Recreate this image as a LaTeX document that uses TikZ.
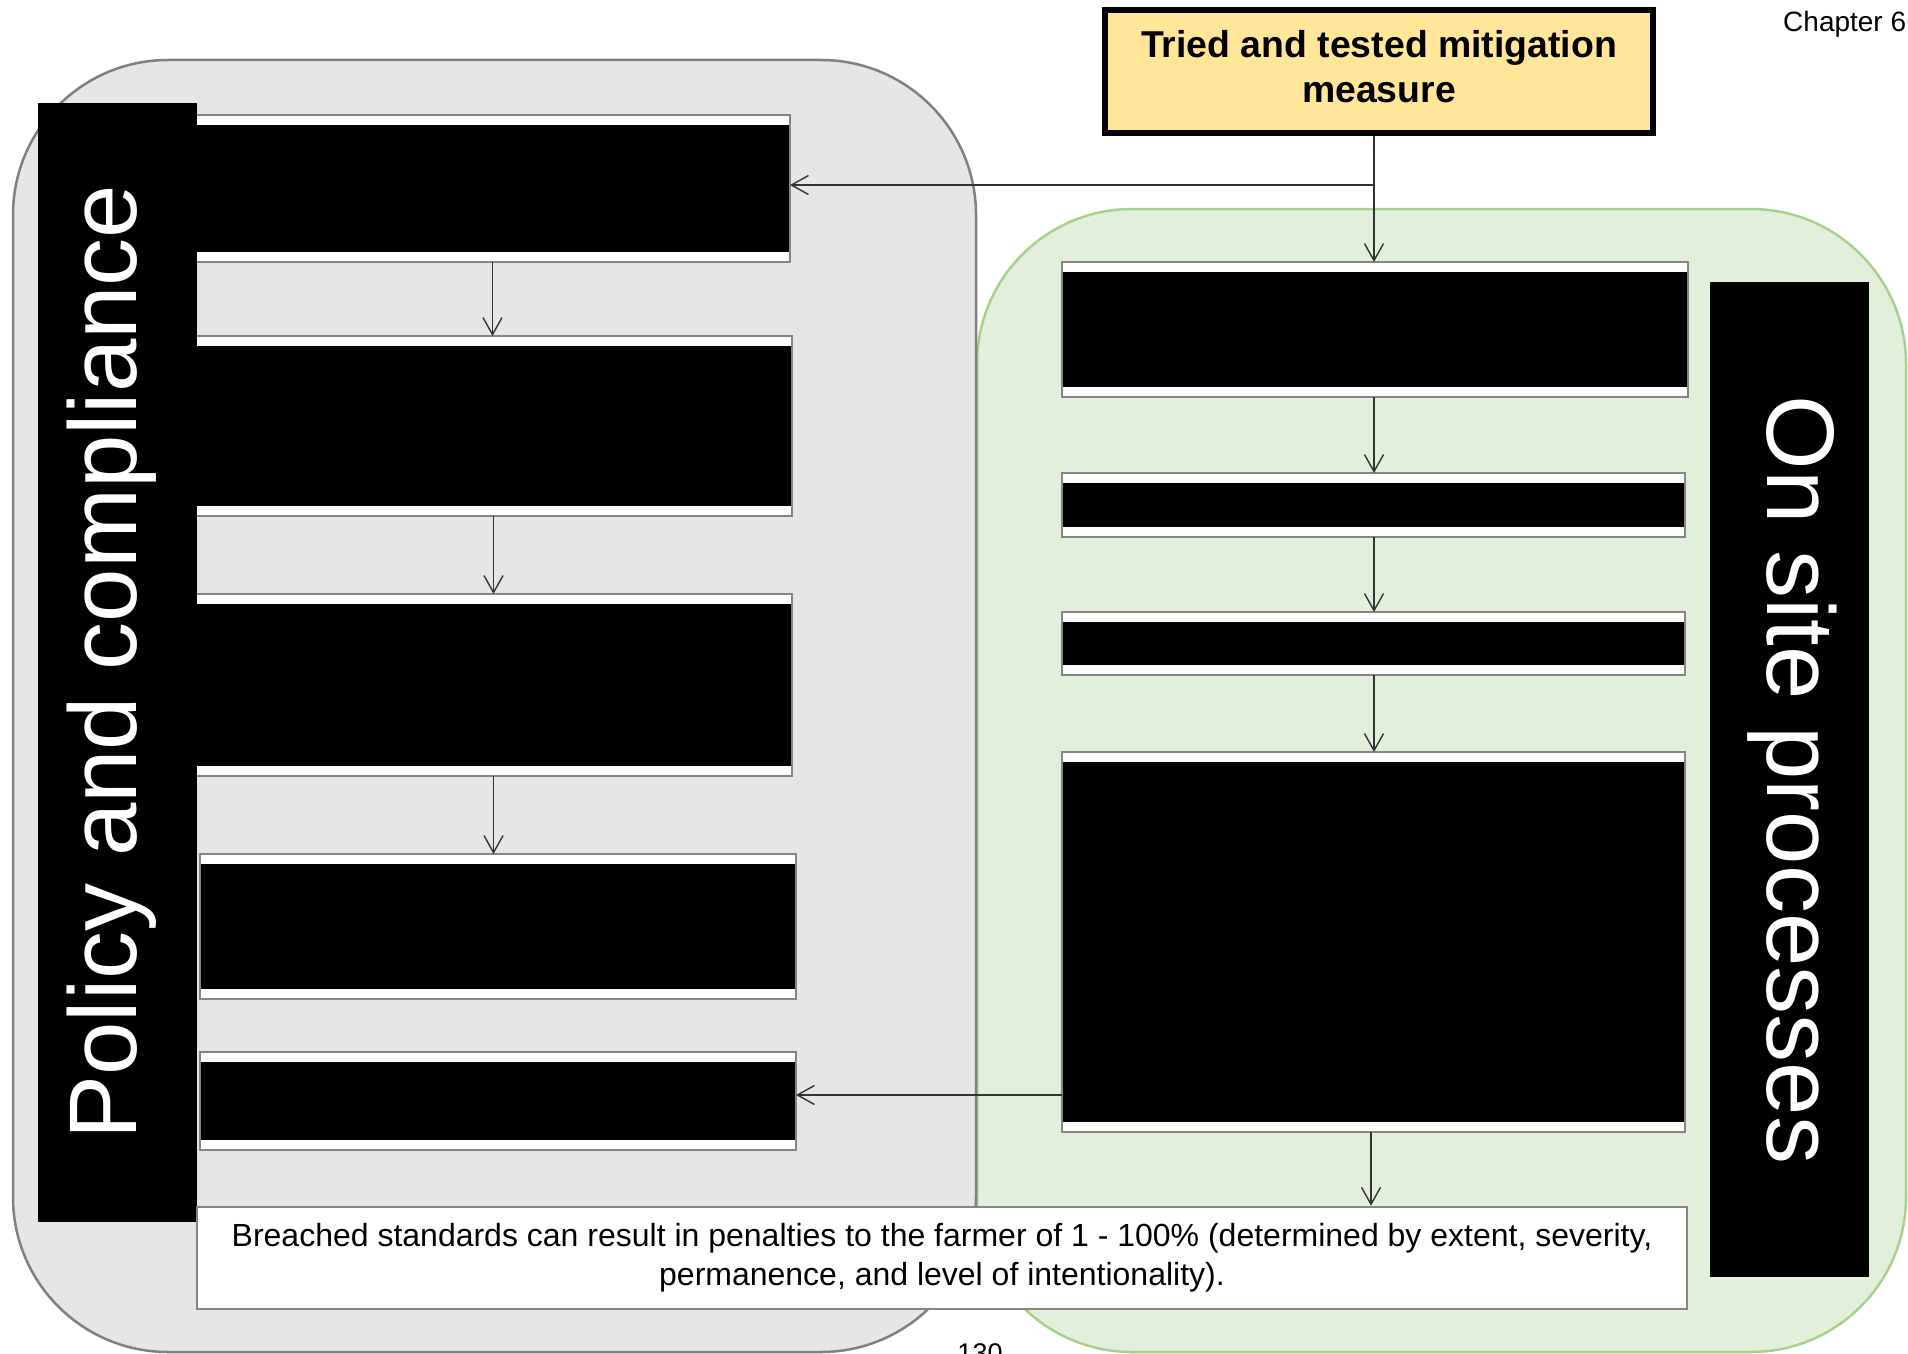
\documentclass[tikz,border=0pt]{standalone}
\usepackage{fontspec}
\setmainfont{Liberation Sans}
\usetikzlibrary{arrows.meta}
\definecolor{regiongray}{HTML}{E6E6E6}
\definecolor{regiongrayline}{HTML}{808080}
\definecolor{regiongreen}{HTML}{E2EFDA}
\definecolor{regiongreenline}{HTML}{A9D18E}
\definecolor{boxline}{HTML}{858585}
\definecolor{gold}{HTML}{FFE699}
\definecolor{arrowcol}{HTML}{333333}
\begin{document}
\begin{tikzpicture}[x=1pt,y=-1pt,
  grayregion/.style={draw=regiongrayline, fill=regiongray, line width=2.5pt, rounded corners=155pt},
  greenregion/.style={draw=regiongreenline, fill=regiongreen, line width=2.5pt, rounded corners=155pt},
  blkbox/.style={draw=boxline, line width=2.5pt, fill=white, inner sep=0pt, outer sep=0pt,
    path picture={\fill[black] ([yshift=-10pt]path picture bounding box.north west) rectangle ([yshift=10pt]path picture bounding box.south east);}},
  sidebar/.style={fill=black, inner sep=0pt, outer sep=0pt, minimum width=159pt},
  sidetext/.style={text=white, inner sep=0pt, font=\fontsize{96}{110}\selectfont},
  arr/.style={draw=arrowcol, line width=1.4pt, -{Straight Barb[length=17pt,width=19pt,line width=1.4pt]}},
]
\useasboundingbox (0,0) rectangle (1908,1354);

% regions
\draw[greenregion] (977,209) rectangle (1906,1352);
\draw[grayregion] (13,60) rectangle (976,1352);

% top box
\node[draw=black, fill=gold, line width=6pt, minimum width=548pt, minimum height=123pt, inner sep=0pt] (Y) at (1379,71.5) {};
\node[align=center, inner sep=0pt, font=\bfseries\fontsize{37.4}{45}\selectfont] (YT) at (1379,67) {Tried and tested mitigation\\measure};

% chapter and page
\node[anchor=base west, inner sep=0pt, font=\fontsize{28}{32}\selectfont] (CH) at (1783,32) {Chapter 6};
\node[anchor=base, inner sep=0pt, font=\fontsize{27}{30}\selectfont] (PG) at (980,1362) {130};

% left boxes
\node[blkbox, minimum width=595pt, minimum height=147pt] (L1) at (492.5,188.5) {};
\node[blkbox, minimum width=597pt, minimum height=180pt] (L2) at (493.5,426) {};
\node[blkbox, minimum width=597pt, minimum height=182pt] (L3) at (493.5,685) {};
\node[blkbox, minimum width=596pt, minimum height=145pt] (L4) at (498,926.5) {};
\node[blkbox, minimum width=596pt, minimum height=98pt] (L5) at (498,1101) {};

% right boxes
\node[blkbox, minimum width=626pt, minimum height=135pt] (R1) at (1375,329.5) {};
\node[blkbox, minimum width=623pt, minimum height=64pt] (R2) at (1373.5,505) {};
\node[blkbox, minimum width=623pt, minimum height=63pt] (R3) at (1373.5,643.5) {};
\node[blkbox, minimum width=623pt, minimum height=380pt] (R4) at (1373.5,942) {};

% side bars
\node[sidebar, minimum height=1119pt] (PB) at (117.5,662.5) {};
\node[sidetext, rotate=90] (PT) at (112,662) {Policy and compliance};
\node[sidebar, minimum height=995pt] (OB) at (1789.5,779.5) {};
\node[sidetext, rotate=-90] (OT) at (1792,780) {On site processes};

% bottom text box
\node[draw=boxline, fill=white, line width=2.5pt, minimum width=1490pt, minimum height=102pt, inner sep=0pt, align=center, font=\fontsize{32}{39}\selectfont] (BT) at (942,1258) {Breached standards can result in penalties to the farmer of 1 - 100\% (determined by extent, severity,\\permanence, and level of intentionality).};

% connectors
\coordinate (br) at (1374,185);
\draw[arr] (Y.south -| br) -- (R1.north -| br);
\draw[arr] (br) -- (br -| L1.east);
\draw[arr] (L1.south) -- (L1.south |- L2.north);
\draw[arr] (L2.south) -- (L2.south |- L3.north);
\draw[arr] (L3.south) -- (L3.south |- L4.north);
\draw[arr] (R1.south -| br) -- (R2.north -| br);
\draw[arr] (R2.south -| br) -- (R3.north -| br);
\draw[arr] (R3.south -| br) -- (R4.north -| br);
\coordinate (bb) at (1371,0);
\draw[arr] (R4.south -| bb) -- (BT.north -| bb);
\coordinate (c5) at (0,1095);
\draw[arr] (R4.west |- c5) -- (L5.east |- c5);
\end{tikzpicture}
\end{document}
